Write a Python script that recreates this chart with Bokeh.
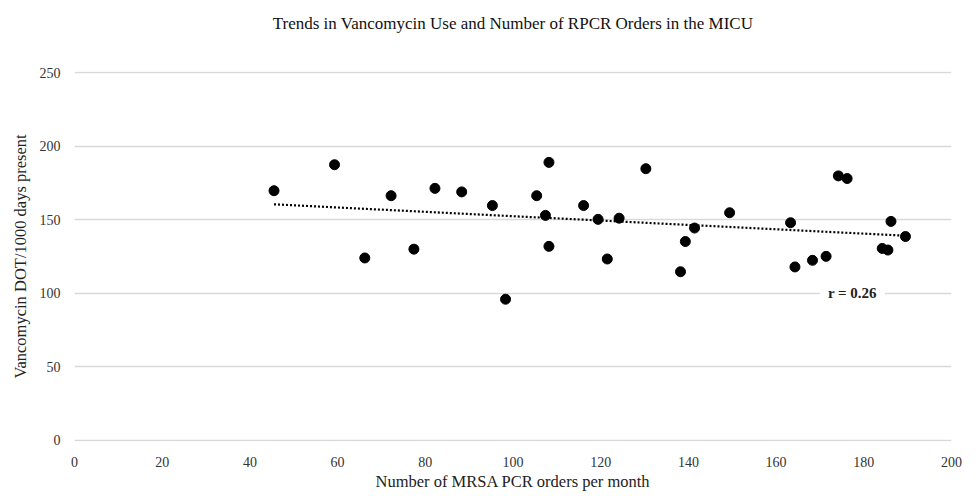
import numpy as np
from bokeh.plotting import figure
from bokeh.models import Range1d, Label, FixedTicker, Title
from bokeh.embed import file_html
from bokeh.resources import INLINE

# Data
pcr_orders = [45.5, 59.3, 66.2, 72.2, 77.4, 82.2, 88.3, 95.3, 98.3, 105.4, 108.2,
              107.4, 108.2, 116.1, 119.4, 121.5, 124.2, 130.3, 138.2, 139.3, 141.4,
              149.4, 163.3, 164.3, 168.3, 171.4, 174.2, 176.2, 184.2, 185.5, 186.2, 189.5]
vanco_dot = [169.8, 187.5, 124.0, 166.4, 130.0, 171.4, 169.0, 159.7, 95.9, 166.4, 189.1,
             153.0, 131.9, 159.7, 150.3, 123.3, 151.1, 184.8, 114.6, 135.2, 144.4,
             154.8, 148.0, 117.9, 122.4, 125.1, 179.9, 178.1, 130.5, 129.4, 148.9, 138.6]
x_ticks = [0, 20, 40, 60, 80, 100, 120, 140, 160, 180, 200]
y_ticks = [0, 50, 100, 150, 200, 250]
title_text = "Trends in Vancomycin Use and Number of RPCR Orders in the MICU"
r_text = "r = 0.26"

SERIF = "Liberation Serif"

p = figure(width=962, height=493, output_backend="svg", toolbar_location=None, title=None,
           x_range=Range1d(0, 200), y_range=Range1d(-1, 251),
           min_border_left=74, min_border_right=11, min_border_top=71, min_border_bottom=48)

p.outline_line_color = None
p.background_fill_color = "white"
p.border_fill_color = "white"

# grid
p.xgrid.grid_line_color = None
p.ygrid.grid_line_color = "#d9d9d9"
p.ygrid.grid_line_width = 1.5
p.ygrid.ticker = FixedTicker(ticks=y_ticks)

for ax in (p.xaxis[0], p.yaxis[0]):
    ax.axis_line_color = None
    ax.major_tick_line_color = None
    ax.minor_tick_line_color = None
    ax.major_label_text_font = SERIF
    ax.major_label_text_font_size = "14px"
    ax.major_label_text_color = "#333333"
    ax.axis_label_text_font = SERIF
    ax.axis_label_text_font_size = "16.5px"
    ax.axis_label_text_font_style = "normal"
    ax.axis_label_text_color = "#222222"

p.xaxis.ticker = FixedTicker(ticks=x_ticks)
p.yaxis.ticker = FixedTicker(ticks=y_ticks)
p.xaxis.axis_label = "Number of MRSA PCR orders per month"
p.yaxis.axis_label = "Vancomycin DOT/1000 days present"
p.xaxis.major_label_standoff = 9
p.yaxis.major_label_standoff = 8
p.xaxis.axis_label_standoff = 2
p.yaxis.axis_label_standoff = 7

# spacer between plot area and title, then the title itself
p.add_layout(Title(text=" ", text_font_size="20px", text_font=SERIF), "above")
p.add_layout(Title(text=title_text, align="center", text_font=SERIF,
                   text_font_size="17px", text_font_style="normal",
                   text_color="#111111"), "above")

# trend line (linear least squares over the data)
coef = np.polyfit(pcr_orders, vanco_dot, 1)
tx = np.array([min(pcr_orders), max(pcr_orders)])
ty = np.polyval(coef, tx)
p.line(tx, ty, line_color="black", line_width=2.2, line_dash="2 2")

p.scatter(pcr_orders, vanco_dot, size=10, color="black")

lab = Label(x=177.4, y=100, text=r_text, text_align="center", text_baseline="middle",
            text_font=SERIF, text_font_size="15px", text_font_style="bold",
            text_color="#222222", background_fill_color="white",
            background_fill_alpha=1.0, padding=8)
p.add_layout(lab)

open("out.html", "w").write(file_html(p, INLINE))
